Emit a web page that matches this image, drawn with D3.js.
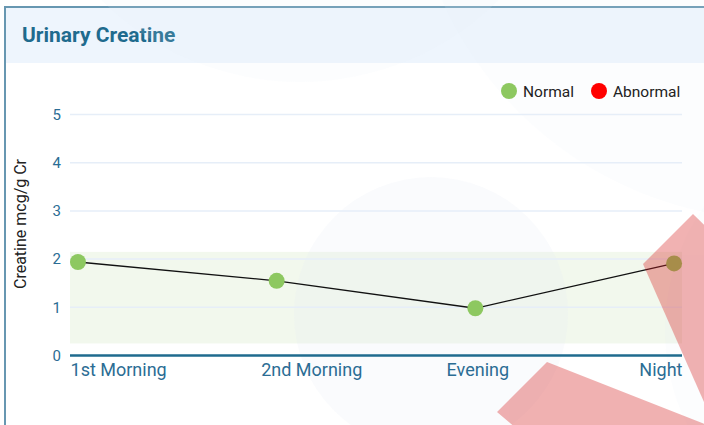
<!DOCTYPE html>
<html>
<head>
<meta charset="utf-8">
<script src="https://cdn.jsdelivr.net/npm/d3@7"></script>
<style>
  body { margin: 0; background: #fff; }
  svg { display: block; font-family: Roboto, "Noto Sans", sans-serif; }
</style>
</head>
<body>
<div id="chart"></div>
<script>
// data
var categories = ["1st Morning", "2nd Morning", "Evening", "Night"];
var creatine   = [1.94, 1.55, 0.98, 1.91];
var pointStatus = ["Normal", "Normal", "Normal", "Normal"];
var normalBand = [0.25, 2.15];
var yTicks     = [0, 1, 2, 3, 4, 5];
var legendKeys = ["Normal", "Abnormal"];

var W = 704, H = 425;
var margin = {left: 70, right: 22, top: 114, bottom: 70};
var colors = {"Normal": "#8dc860", "Abnormal": "#ff0000"};

var svg = d3.select("#chart").append("svg")
    .attr("width", W)
    .attr("height", H);

// card + header
svg.append("rect")
    .attr("x", 5).attr("y", 7)
    .attr("width", W + 10).attr("height", H + 10)
    .attr("fill", "#fff")
    .attr("stroke", "#6797b1")
    .attr("stroke-width", 2);

svg.append("rect")
    .attr("x", 6).attr("y", 8)
    .attr("width", W).attr("height", 55)
    .attr("fill", "#eef5fd");

svg.append("text")
    .attr("x", 22).attr("y", 42)
    .attr("fill", "#1f6b8e")
    .style("font-size", "21px")
    .style("font-weight", "bold")
    .text("Urinary Creatine");

// scales
var Xscale = d3.scalePoint()
    .domain(categories)
    .range([margin.left, W - margin.right])
    .padding(0.04);

var Yscale = d3.scaleLinear()
    .domain([0, 5])
    .range([355.5, 114.5]);

var inner = svg.append("g");

// normal range band
inner.append("rect")
    .attr("x", margin.left)
    .attr("width", W - margin.right - margin.left)
    .attr("y", Yscale(normalBand[1]))
    .attr("height", Yscale(normalBand[0]) - Yscale(normalBand[1]))
    .attr("fill", "#f2f8ed");

// faint background circles (behind axes and text)
var deco = inner.append("g").attr("fill", "#e4ebf4");
deco.append("circle").attr("cx", 431).attr("cy", 314).attr("r", 137).attr("opacity", 0.2);
deco.append("circle").attr("cx", 780).attr("cy", -150).attr("r", 370).attr("opacity", 0.12);
deco.append("circle").attr("cx", 300).attr("cy", -200).attr("r", 282).attr("opacity", 0.12);
deco.append("circle").attr("cx", 880).attr("cy", 330).attr("r", 215).attr("opacity", 0.12);

// gridlines
inner.append("g")
    .selectAll("line")
    .data(yTicks.filter(function(d) { return d > 0; }))
    .join("line")
    .attr("x1", margin.left).attr("x2", W - margin.right)
    .attr("y1", function(d) { return Yscale(d); })
    .attr("y2", function(d) { return Yscale(d); })
    .attr("stroke", "#e6eef8")
    .attr("stroke-width", 1.5);

// Y axis ticks
var axisY = inner.append("g")
    .attr("transform", "translate(" + (margin.left - 9) + ",0)")
    .call(d3.axisLeft(Yscale).tickValues(yTicks).tickFormat(d3.format("d")).tickSize(0).tickPadding(0));
axisY.select(".domain").remove();
axisY.selectAll("text")
    .attr("fill", "#2b6d94")
    .style("font-size", "15px")
    .style("font-family", "Roboto, sans-serif");

// X axis
var axisX = inner.append("g")
    .attr("transform", "translate(0," + Yscale(0) + ")")
    .call(d3.axisBottom(Xscale).tickSize(0).tickPadding(7));
axisX.select(".domain")
    .attr("d", "M" + margin.left + ",0H" + (W - margin.right))
    .attr("stroke", "#1f6b8e")
    .attr("stroke-width", 2.5);
axisX.selectAll("text")
    .attr("fill", "#2b6d94")
    .attr("dy", "0.75em")
    .style("font-size", "18px")
    .style("font-family", "Roboto, sans-serif")
    .each(function(d, i) {
        var t = d3.select(this);
        if (i === 0) t.attr("text-anchor", "start").attr("x", margin.left - Xscale(d));
        else if (i === categories.length - 1) t.attr("text-anchor", "end").attr("x", W - margin.right - Xscale(d));
        else if (i === 1) t.attr("text-anchor", "start").attr("x", -16);
        else t.attr("x", 2);
    });

// Y axis title
svg.append("text")
    .attr("transform", "translate(26," + 224 + ") rotate(-90)")
    .attr("text-anchor", "middle")
    .attr("fill", "#222")
    .style("font-size", "16px")
    .text("Creatine mcg/g Cr");

// line + points
var line = d3.line()
    .x(function(d, i) { return Xscale(categories[i]); })
    .y(function(d) { return Yscale(d); });

inner.append("path")
    .datum(creatine)
    .attr("d", line)
    .attr("fill", "none")
    .attr("stroke", "#111")
    .attr("stroke-width", 1.3);

inner.append("g")
    .selectAll("circle")
    .data(creatine)
    .join("circle")
    .attr("cx", function(d, i) { return Xscale(categories[i]); })
    .attr("cy", function(d) { return Yscale(d); })
    .attr("r", 8)
    .attr("fill", function(d, i) { return colors[pointStatus[i]]; });

// legend
var legend = svg.append("g");
var legendX = [509, 599];
legendKeys.forEach(function(k, i) {
    legend.append("circle")
        .attr("cx", legendX[i]).attr("cy", 91).attr("r", 8)
        .attr("fill", colors[k]);
    legend.append("text")
        .attr("x", legendX[i] + 14).attr("y", 96.5)
        .attr("fill", "#222")
        .style("font-size", "15.5px")
        .text(k);
});

// red decorative shapes on top
var red = svg.append("g").attr("fill", "rgb(215,35,35)").attr("opacity", 0.35);
red.append("polygon").attr("points", "693,214 643,264 712,420 760,280");
red.append("polygon").attr("points", "547,362 497,412 530,440 760,440 720,430");
</script>
</body>
</html>
